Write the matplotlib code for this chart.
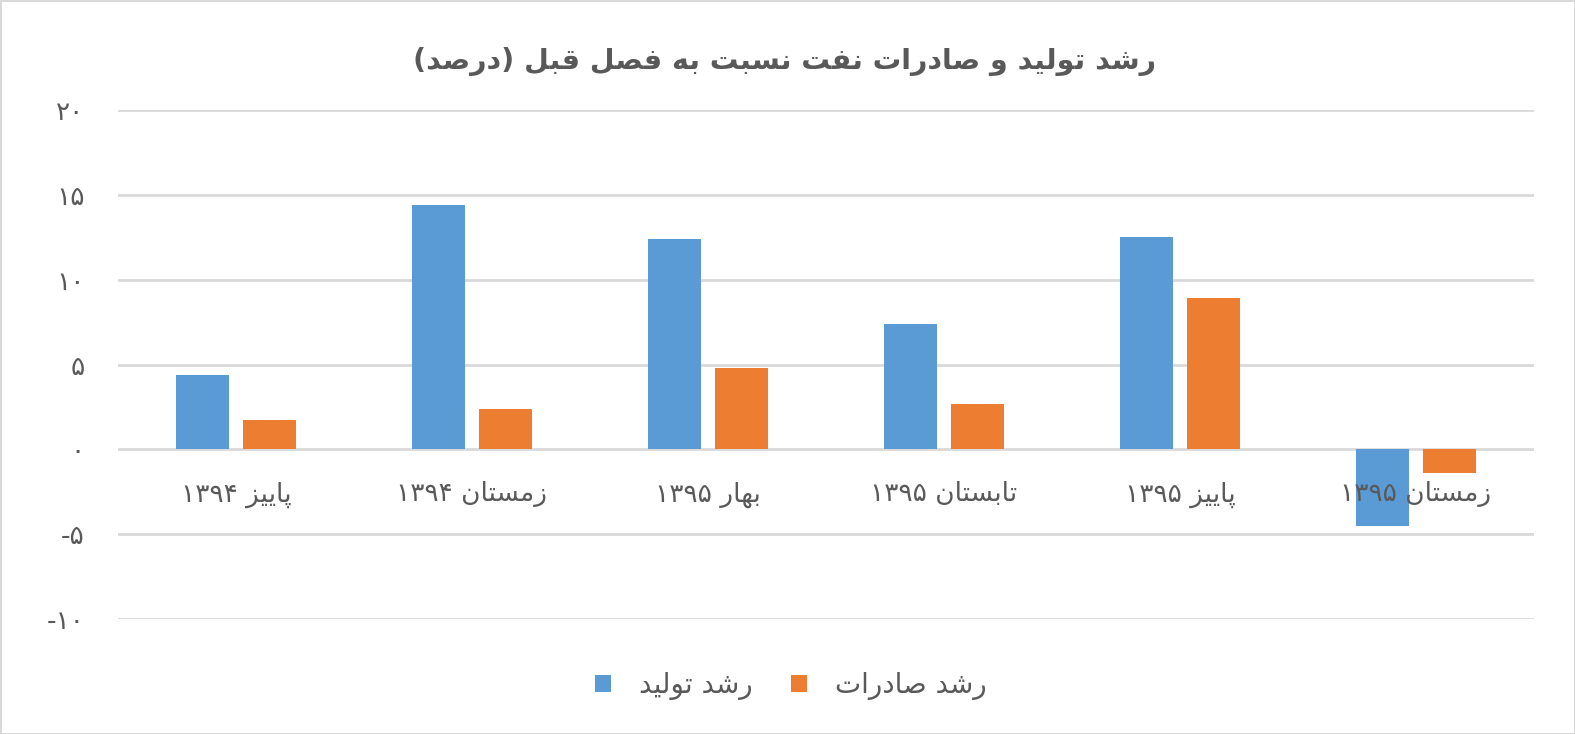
import re
import matplotlib
matplotlib.use("Agg")
import matplotlib.pyplot as plt
from matplotlib import font_manager
from matplotlib.ft2font import FT2Font

# ---------------- data ----------------
categories = ["پاییز ۱۳۹۴", "زمستان ۱۳۹۴", "بهار ۱۳۹۵", "تابستان ۱۳۹۵", "پاییز ۱۳۹۵", "زمستان ۱۳۹۵"]
production_growth = [4.4, 14.4, 12.4, 7.4, 12.5, -4.5]
export_growth = [1.7, 2.4, 4.8, 2.65, 8.9, -1.4]
series_names = ["رشد تولید", "رشد صادرات"]
title_text = "رشد تولید و صادرات نفت نسبت به فصل قبل (درصد)"
y_ticks = [-10, -5, 0, 5, 10, 15, 20]
y_tick_labels = ["-۱۰", "-۵", "۰", "۵", "۱۰", "۱۵", "۲۰"]

# ---------------- minimal Arabic/Persian shaping ----------------
FORMS = {
    '\u0627': ('\uFE8D', '\uFE8E', None, None),
    '\u0628': ('\uFE8F', '\uFE90', '\uFE91', '\uFE92'),
    '\u067E': ('\uFB56', '\uFB57', '\uFB58', '\uFB59'),
    '\u062A': ('\uFE95', '\uFE96', '\uFE97', '\uFE98'),
    '\u062F': ('\uFEA9', '\uFEAA', None, None),
    '\u0631': ('\uFEAD', '\uFEAE', None, None),
    '\u0632': ('\uFEAF', '\uFEB0', None, None),
    '\u0633': ('\uFEB1', '\uFEB2', '\uFEB3', '\uFEB4'),
    '\u0634': ('\uFEB5', '\uFEB6', '\uFEB7', '\uFEB8'),
    '\u0635': ('\uFEB9', '\uFEBA', '\uFEBB', '\uFEBC'),
    '\u0641': ('\uFED1', '\uFED2', '\uFED3', '\uFED4'),
    '\u0642': ('\uFED5', '\uFED6', '\uFED7', '\uFED8'),
    '\u0644': ('\uFEDD', '\uFEDE', '\uFEDF', '\uFEE0'),
    '\u0645': ('\uFEE1', '\uFEE2', '\uFEE3', '\uFEE4'),
    '\u0646': ('\uFEE5', '\uFEE6', '\uFEE7', '\uFEE8'),
    '\u0647': ('\uFEE9', '\uFEEA', '\uFEEB', '\uFEEC'),
    '\u0648': ('\uFEED', '\uFEEE', None, None),
    '\u06CC': ('\uFBFC', '\uFBFD', '\uFBFE', '\uFBFF'),
}
FALLBACK = {
    '\uFBFC': '\uFEEF', '\uFBFD': '\uFEF0', '\uFBFE': '\uFEF3', '\uFBFF': '\uFEF4',
    '\uFB56': '\uFE8F', '\uFB57': '\uFE90', '\uFB58': '\uFE91', '\uFB59': '\uFE92',
}

regular_path = font_manager.findfont(font_manager.FontProperties(family="DejaVu Sans"))
bold_path = font_manager.findfont(font_manager.FontProperties(family="DejaVu Sans", weight="bold"))
_fonts = {p: FT2Font(p) for p in {regular_path, bold_path}}


def has_glyph(path, ch):
    try:
        return _fonts[path].get_char_index(ord(ch)) != 0
    except Exception:
        return False


def shape(s, path):
    out = []
    for i, c in enumerate(s):
        if c not in FORMS:
            out.append(c)
            continue
        prev = s[i - 1] if i > 0 else ''
        nxt = s[i + 1] if i + 1 < len(s) else ''
        jp = prev in FORMS and FORMS[prev][2] is not None
        jn = FORMS[c][2] is not None and nxt in FORMS
        iso, fin, ini, med = FORMS[c]
        g = med if (jp and jn) else fin if jp else ini if jn else iso
        if not has_glyph(path, g) and g in FALLBACK:
            g = FALLBACK[g]
        out.append(g)
    return ''.join(out)


def rtl(s, path=regular_path):
    shaped = shape(s, path)
    runs = re.findall(r'[0-9\u06F0-\u06F9]+|[^0-9\u06F0-\u06F9]', shaped)
    runs.reverse()
    out = ''.join(runs)
    return out.translate(str.maketrans({'(': ')', ')': '('}))


# ---------------- plot ----------------
blue = "#5B9BD5"
orange = "#ED7D31"
text_grey = "#595959"
grid_grey = "#D9D9D9"

fig = plt.figure(figsize=(15.75, 7.34), dpi=100)
fig.patch.set_facecolor("white")
fig.patch.set_edgecolor(grid_grey)
fig.patch.set_linewidth(2)

ax = fig.add_axes([0.0749, 0.1567, 0.8991, 0.6934])
ax.set_ylim(-10, 20)
ax.set_xlim(-0.5, len(categories) - 0.5)
ax.set_axisbelow(False)

x = list(range(len(categories)))
w = 0.2246
off = 0.142
ax.bar([i - off for i in x], production_growth, width=w, color=blue,
       label=rtl(series_names[0]), zorder=2)
ax.bar([i + off for i in x], export_growth, width=w, color=orange,
       label=rtl(series_names[1]), zorder=2)

for yv in y_ticks:
    ax.axhline(yv, color=grid_grey, linewidth=2, zorder=0.5)

for s in ["top", "right", "left"]:
    ax.spines[s].set_visible(False)
ax.spines["bottom"].set_position(("data", 0))
ax.spines["bottom"].set_visible(False)

ax.set_yticks(y_ticks)
ax.set_yticklabels(y_tick_labels, fontsize=19, color=text_grey, family="DejaVu Sans")
ax.set_xticks(x)
ax.set_xticklabels([rtl(c) for c in categories], fontsize=19, color=text_grey, family="DejaVu Sans")
ax.tick_params(axis="both", length=0)
ax.tick_params(axis="y", pad=24)
ax.tick_params(axis="x", pad=23)

fig.text(0.498, 0.916, rtl(title_text, bold_path), ha="center", va="center",
         fontsize=20.5, fontweight="bold", color=text_grey, family="DejaVu Sans")

leg = fig.legend(loc="center", bbox_to_anchor=(0.502, 0.066), ncol=2, frameon=False,
                 fontsize=20, handlelength=0.58, handleheight=0.58, columnspacing=1.4,
                 handletextpad=1.0)
for t in leg.get_texts():
    t.set_color(text_grey)

fig.savefig("out.png", dpi=100)
